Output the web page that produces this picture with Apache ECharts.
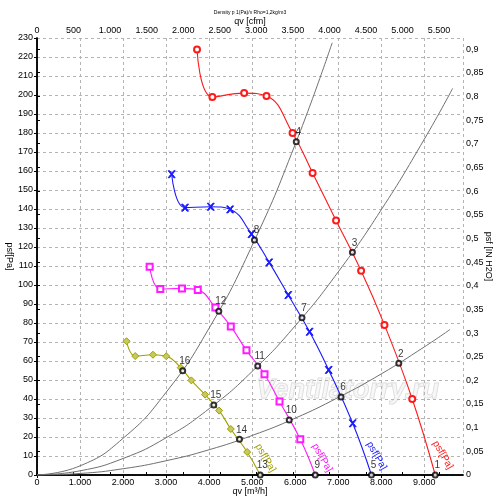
<!doctype html>
<html>
<head>
<meta charset="utf-8">
<script src="https://cdn.jsdelivr.net/npm/echarts@6/dist/echarts.min.js"></script>
<style>
html, body { margin: 0; padding: 0; background: #fff; }
#main { width: 500px; height: 500px; }
</style>
</head>
<body>
<div id="main"></div>
<script>
// fan curves, [qv m3/h, psf Pa]
var redCurve = [[3719,224],[4076,199],[4814,201],[5333,199.5],[5939,180],[6405,159],[6950,134],[7532,107.5],[8075,79],[8720,40],[9255,0]];
var blueCurve = [[3130,158.3],[3440,140.7],[4038,141.2],[4488,139.8],[4984,126.8],[5396,111.9],[5839,94.7],[6335,75.4],[6779,55.3],[7337,27.2],[7772,0]];
var magentaCurve = [[2618,109.6],[2865,97.9],[3370,98.2],[3736,97.4],[4146,88.1],[4504,78.2],[4868,65.6],[5287,53],[5636,38.7],[6118,18.8],[6467,0]];
var oliveCurve = [[2082,70.4],[2283,62.6],[2695,63.3],[3005,62.5],[3340,56.5],[3587,49.8],[3906,42.3],[4232,33.9],[4504,24.2],[4884,12.1],[5187,0]];

// system curves
var systemA = [[0,0],[1000,4.8],[2000,19.3],[3000,43.5],[4000,77.3],[5000,120.8],[6000,174],[6860,227.5]];
var systemB = [[0,0],[1000,2.2],[2000,8.7],[3000,19.6],[4000,34.9],[5000,54.5],[6000,78.5],[7000,106.9],[8000,139.6],[9000,176.7],[9660,203.5]];
var systemC = [[0,0],[1000,0.8],[2000,3.3],[3000,7.5],[4000,13.3],[5000,20.8],[6000,29.9],[7000,40.8],[8000,53.2],[9000,67.4],[9600,76.6]];

// operating points
var pointNames = ['1','2','3','4','5','6','7','8','9','10','11','12','13','14','15','16'];
var pointValues = [[9255,0],[8408,58.8],[7330,117.2],[6025,175.4],[7772,0],[7066,41],[6158,82.8],[5054,123.7],
                   [6467,0],[5862,29],[5130,57.4],[4225,86.2],[5187,0],[4705,18.8],[4108,36.8],[3386,54.9]];

var curveName = 'psf[Pa]';
var qvMax = 9900;
var pMax = 230;
var CFM = 1.699;     // m3/h per cfm
var INH2O = 249.09;  // Pa per inch H2O

var FONT = 'Liberation Sans';

function thousands(v) {
    v = Math.round(v);
    if (v < 1000) return String(v);
    return Math.floor(v / 1000) + '.' + String(v % 1000).padStart(3, '0');
}
function comma(v) {
    if (v === 0) return '0';
    return String(+v.toFixed(2)).replace('.', ',');
}

var xPath = 'path://M0,0 L2,0 L5,3.6 L8,0 L10,0 L6,5 L10,10 L8,10 L5,6.4 L2,10 L0,10 L4,5 Z';

// label offset is in the rotated label frame
function fanSeries(data, color, symbol, size, fill, labelOffset) {
    return {
        type: 'line',
        smooth: 0.45,
        z: 3,
        data: data.map(function (d, i) {
            var item = { value: d };
            if (i === data.length - 1) {
                item.symbolSize = 0.1;
                item.label = {
                    show: true,
                    formatter: curveName,
                    position: 'inside',
                    offset: labelOffset,
                    rotate: -60,
                    color: color,
                    fontSize: 10,
                    fontFamily: FONT
                };
            }
            return item;
        }),
        symbol: symbol,
        symbolSize: size,
        lineStyle: { color: color, width: 1.1 },
        itemStyle: { color: fill || color, borderColor: color, borderWidth: 1 },
        emphasis: { disabled: true }
    };
}

function systemSeries(data) {
    return {
        type: 'line',
        smooth: true,
        showSymbol: false,
        z: 2,
        data: data,
        lineStyle: { color: '#707070', width: 1 },
        emphasis: { disabled: true }
    };
}

var axisText = { fontSize: 9, color: '#000', fontFamily: FONT };
var blackLine = { lineStyle: { color: '#000', width: 1.5 } };
var tick = { length: 3, lineStyle: { color: '#000' } };

var chart = echarts.init(document.getElementById('main'));

chart.setOption({
    animation: false,
    backgroundColor: '#fff',
    title: {
        text: 'Density p 1(Pa)/v Rho=1,2kg/m3',
        left: 'center',
        top: 5,
        textStyle: { fontSize: 5, fontWeight: 'normal', color: '#000', fontFamily: FONT }
    },
    grid: { left: 37, right: 37, top: 38, bottom: 25, outerBoundsMode: 'none' },
    xAxis: [{
        type: 'value',
        position: 'bottom',
        min: 0,
        max: qvMax,
        interval: 1000,
        name: 'qv [m³/h]',
        nameLocation: 'middle',
        nameMoveOverlap: false,
        nameGap: 12,
        nameTextStyle: axisText,
        axisLine: blackLine,
        axisTick: tick,
        axisLabel: Object.assign({ margin: 3, showMaxLabel: false, formatter: thousands }, axisText),
        splitLine: { show: true, lineStyle: { type: [3, 3], color: '#b4b4b4' } }
    }, {
        type: 'value',
        position: 'top',
        min: 0,
        max: qvMax / CFM,
        interval: 500,
        name: 'qv [cfm]',
        nameLocation: 'middle',
        nameMoveOverlap: false,
        nameGap: 12,
        nameTextStyle: axisText,
        axisLine: blackLine,
        axisTick: tick,
        axisLabel: Object.assign({ margin: 3, showMaxLabel: false, formatter: thousands }, axisText),
        splitLine: { show: false }
    }],
    yAxis: [{
        type: 'value',
        position: 'left',
        min: 0,
        max: pMax,
        interval: 10,
        name: curveName,
        nameLocation: 'middle',
        nameMoveOverlap: false,
        nameRotate: -90,
        nameGap: 23,
        nameTextStyle: axisText,
        axisLine: blackLine,
        axisTick: tick,
        axisLabel: Object.assign({ margin: 4 }, axisText),
        splitLine: { show: true, lineStyle: { type: [3, 3], color: '#b4b4b4' } }
    }, {
        type: 'value',
        position: 'right',
        min: 0,
        max: pMax / INH2O,
        interval: 0.05,
        name: 'psf [IN H2O]',
        nameLocation: 'middle',
        nameMoveOverlap: false,
        nameRotate: -90,
        nameGap: 21,
        nameTextStyle: axisText,
        axisLine: blackLine,
        axisTick: tick,
        axisLabel: Object.assign({ margin: 3, showMaxLabel: false, formatter: comma }, axisText),
        splitLine: { show: false }
    }],
    graphic: [{
        type: 'text',
        left: 256,
        top: 377,
        z: 0,
        silent: true,
        style: {
            text: 'Ventilatorry.ru',
            font: 'italic bold 27px "Liberation Sans"',
            fill: 'rgba(240,240,240,0.5)',
            stroke: '#dadada',
            lineWidth: 1
        }
    }],
    series: [
        systemSeries(systemA),
        systemSeries(systemB),
        systemSeries(systemC),
        fanSeries(redCurve, '#ff1a1a', 'emptyCircle', 6, null, [-13.5, -16.5]),
        fanSeries(blueCurve, '#1a1aff', xPath, 7, null, [-14, -14]),
        fanSeries(magentaCurve, '#ff1aff', 'emptyRect', 6, null, [-11.5, -14.5]),
        fanSeries(oliveCurve, '#a0a000', 'diamond', 7, '#c8c860', [-12, -13]),
        {
            type: 'scatter',
            z: 5,
            symbol: 'emptyCircle',
            symbolSize: 5,
            itemStyle: { color: '#000', borderColor: '#000', borderWidth: 0.8 },
            data: pointValues.map(function (v, i) {
                return { value: v, name: pointNames[i] };
            }),
            label: {
                show: true,
                position: 'top',
                distance: 1,
                offset: [2, 0],
                formatter: '{b}',
                fontSize: 10,
                color: '#000',
                fontFamily: FONT
            },
            emphasis: { disabled: true }
        }
    ]
});

window.onresize = chart.resize;
</script>
</body>
</html>
